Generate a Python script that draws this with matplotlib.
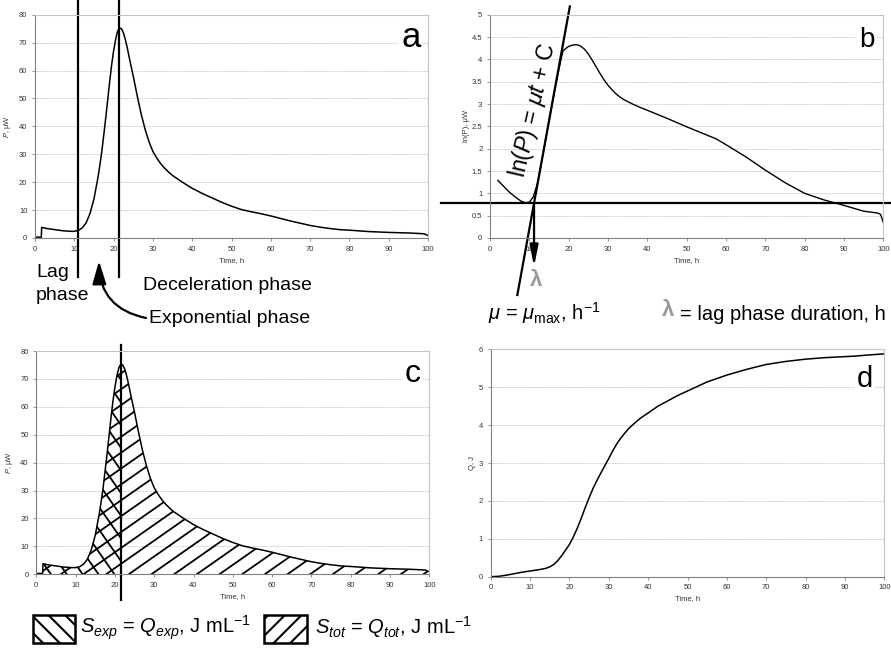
"""
Four-panel calorimetry figure: heat flow P(t), ln(P), hatched areas and cumulative heat Q(t)
"""

import numpy as np
import matplotlib
matplotlib.use("Agg")
import matplotlib.pyplot as plt
from matplotlib.patches import Rectangle, FancyArrowPatch
from matplotlib.ticker import MultipleLocator, FormatStrFormatter

plt.rcParams['font.family'] = ['Liberation Sans', 'DejaVu Sans']
plt.rcParams['mathtext.fontset'] = 'custom'
plt.rcParams['mathtext.rm'] = 'Liberation Sans'
plt.rcParams['mathtext.it'] = 'Liberation Sans:italic'
plt.rcParams['mathtext.bf'] = 'Liberation Sans:bold'
plt.rcParams['hatch.linewidth'] = 1.5
plt.rcParams['hatch.color'] = 'black'

# heat flow P, uW (panels a and c)
time_h = [0, 1.6, 1.7, 2, 3, 4, 5, 6, 7, 8, 9, 10, 11, 12, 13, 14, 15, 16, 16.5, 17, 17.5,
          18, 18.5, 19, 19.5, 20, 20.5, 21, 21.5, 22, 22.5, 23, 23.5, 24, 25, 26, 27, 28,
          29, 30, 31, 32, 33, 34, 35, 37.5, 40, 42.5, 45, 47.5, 50, 52.5, 55, 57.5, 60,
          62.5, 65, 67.5, 70, 72.5, 75, 77.5, 80, 85, 90, 95, 98, 99, 100]
power_uw = [0.3, 0.3, 3.8, 3.7, 3.4, 3.2, 3.0, 2.8, 2.6, 2.5, 2.4, 2.4, 2.7, 3.6, 5.4, 8.8,
            14, 21.5, 26, 31, 37, 43, 49.5, 56, 62, 67, 71, 74, 75.2, 75, 73.5, 71, 68,
            64.5, 58, 51, 44.5, 39, 34.5, 31, 28.6, 26.6, 25, 23.6, 22.4, 20, 17.8, 16,
            14.4, 12.8, 11.4, 10.2, 9.4, 8.7, 7.9, 7, 6.1, 5.3, 4.5, 3.9, 3.4, 3.0, 2.8,
            2.3, 2.0, 1.8, 1.6, 1.5, 0.9]

# ln(P) (panel b)
time_b = [2, 3, 4, 5, 6, 7, 8, 9, 10, 11, 12, 13, 14, 15, 16, 17, 18, 18.6, 19, 19.5, 20,
          21, 22, 23, 24, 25, 26, 27, 28, 29, 30, 31, 32, 33, 34, 36, 38, 40, 45, 50, 55,
          57.5, 60, 65, 70, 75, 80, 85, 90, 95, 98.5, 99.3, 100]
ln_power = [1.29, 1.2, 1.11, 1.02, 0.95, 0.88, 0.82, 0.79, 0.8, 0.92, 1.2, 1.65, 2.13,
            2.62, 3.1, 3.55, 3.98, 4.2, 4.22, 4.26, 4.29, 4.32, 4.33, 4.3, 4.23, 4.12,
            3.98, 3.83, 3.68, 3.54, 3.42, 3.32, 3.23, 3.16, 3.1, 3.01, 2.93, 2.86, 2.68,
            2.49, 2.31, 2.22, 2.09, 1.82, 1.52, 1.24, 1.0, 0.85, 0.73, 0.6, 0.56, 0.53,
            0.35]

# cumulative heat Q, J (panel d)
time_d = [0, 2, 4, 6, 8, 10, 12, 14, 15, 16, 17, 18, 19, 20, 21, 22, 23, 24, 25, 26, 27,
          28, 29, 30, 31, 32, 33, 34, 35, 36, 38, 40, 42.5, 45, 47.5, 50, 55, 60, 65, 70,
          75, 80, 85, 92.5, 96, 100]
heat_j = [0, 0.01, 0.04, 0.08, 0.12, 0.15, 0.18, 0.22, 0.26, 0.32, 0.42, 0.55, 0.7, 0.85,
          1.05, 1.28, 1.54, 1.82, 2.08, 2.33, 2.54, 2.74, 2.93, 3.12, 3.32, 3.5, 3.65,
          3.78, 3.9, 4.0, 4.18, 4.32, 4.5, 4.64, 4.78, 4.9, 5.14, 5.32, 5.47, 5.6, 5.68,
          5.74, 5.78, 5.82, 5.85, 5.88]

# phase boundaries and growth fit (panel b)
lag_end = 11.0
peak_time = 21.5
lag_level = 0.78
mu_max = 0.484
fit_c = -4.64
fit_range = [6.95, 20.3]

W, H = 891, 650
fig = plt.figure(figsize=(W / 100, H / 100), dpi=100)


def fx(px):
    return px / W


def fy(py):
    return 1 - py / H


def make_axes(left, top, right, bottom):
    return fig.add_axes([fx(left), fy(bottom), (right - left) / W, (bottom - top) / H])


def excel_style(ax, ymax, ystep, ylabel, ylabelpad):
    ax.set_xlim(0, 100)
    ax.set_ylim(0, ymax)
    ax.xaxis.set_major_locator(MultipleLocator(10))
    ax.yaxis.set_major_locator(MultipleLocator(ystep))
    ax.yaxis.set_major_formatter(FormatStrFormatter('%g'))
    for side in ['left', 'bottom']:
        ax.spines[side].set_color('#808080')
        ax.spines[side].set_linewidth(0.8)
    for side in ['top', 'right']:
        ax.spines[side].set_color('#c4c4c4')
        ax.spines[side].set_linewidth(0.8)
    ax.tick_params(direction='out', length=2.5, width=0.6, color='#808080',
                   labelsize=5.5, labelcolor='#333333', pad=3)
    ax.grid(axis='y', color='#b8b8b8', linestyle=(0, (1, 1)), linewidth=0.6)
    ax.set_axisbelow(True)
    ax.set_xlabel('Time, h', fontsize=5.5, color='#333333', labelpad=3)
    ax.set_ylabel(ylabel, fontsize=5.5, color='#333333', labelpad=ylabelpad)


def panel_letter(ax, letter, px, py, size):
    fig.text(fx(px), fy(py), letter, fontsize=size, ha='center', va='baseline',
             bbox=dict(boxstyle='square,pad=0.08', facecolor='white', edgecolor='none'))


def line_hatch(ax, t, p, angle, gap, lw=1.3):
    # hatch lines at a given angle (pixels), clipped to the area under the curve
    area = ax.fill_between(t, p, facecolor='none', edgecolor='none')
    clip = area.get_paths()[0]
    pos = ax.get_position()
    x0, x1 = ax.get_xlim()
    y0, y1 = ax.get_ylim()
    sx = pos.width * W / (x1 - x0)
    sy = pos.height * H / (y1 - y0)
    th = np.radians(angle)
    span = 2 * W
    s = np.array([-span, span])
    for c in np.arange(-span, span, gap):
        xs = -np.sin(th) * c + np.cos(th) * s
        ys = np.cos(th) * c + np.sin(th) * s
        ln, = ax.plot(xs / sx + x0, ys / sy + y0, color='black', lw=lw,
                      solid_capstyle='butt')
        ln.set_clip_path(clip, ax.transData)


t = np.array(time_h)
p = np.array(power_uw)

# ---- panel a ----
ax_a = make_axes(35, 14.7, 428, 238)
excel_style(ax_a, 80, 10, '$P$, μW', 4)
ax_a.plot(t, p, color='black', lw=1.1)
for xv in [lag_end, peak_time - 0.1]:
    ax_a.axvline(xv, ymin=-0.175, ymax=1.06, color='black', lw=1.6, clip_on=False)
panel_letter(ax_a, 'a', 410.7, 46.7, 25)

fig.text(fx(36), fy(277), 'Lag', fontsize=14, va='baseline')
fig.text(fx(36), fy(300), 'phase', fontsize=14, va='baseline')
fig.text(fx(143), fy(290), 'Deceleration phase', fontsize=14, va='baseline')
fig.text(fx(149), fy(322.7), 'Exponential phase', fontsize=14, va='baseline')
fig.add_artist(FancyArrowPatch((fx(146), fy(318)), (fx(99), fy(261)),
                               transform=fig.transFigure,
                               arrowstyle='-|>,head_length=1.0,head_width=0.3',
                               mutation_scale=14, lw=1.6, color='black',
                               connectionstyle='arc3,rad=-0.4', shrinkA=0, shrinkB=0))

# ---- panel b ----
ax_b = make_axes(490, 14.7, 883.3, 238)
excel_style(ax_b, 5, 0.5, 'ln(P), μW', 1)
ax_b.plot(time_b, ln_power, color='black', lw=1.0)
ax_b.axhline(lag_level, xmin=-0.125, xmax=1.02, color='black', lw=1.6, clip_on=False)
fit_t = np.array(fit_range)
ax_b.plot(fit_t, mu_max * fit_t + fit_c, color='black', lw=1.6, clip_on=False)
lag_b = (lag_level - fit_c) / mu_max
ax_b.annotate('', xy=(lag_b, -0.64), xytext=(lag_b, lag_level), annotation_clip=False,
              arrowprops=dict(arrowstyle='-|>,head_length=0.9,head_width=0.18',
                              mutation_scale=14, lw=1.6, color='black',
                              shrinkA=0, shrinkB=0))
panel_letter(ax_b, 'b', 866.7, 46.7, 20)
fig.text(fx(533), fy(110), r'ln($P$) = $\mu t$ + C', fontsize=16.5, rotation=77,
         rotation_mode='anchor', ha='center', va='center')
fig.text(fx(536), fy(280), 'λ', fontsize=16, color='#9a9a9a', fontweight='bold',
         ha='center', va='center')
fig.text(fx(488), fy(320), r'$\mu$ = $\mu_{\mathrm{max}}$, h$^{-1}$', fontsize=14.5,
         va='baseline')
fig.text(fx(668), fy(311), 'λ', fontsize=16, color='#9a9a9a', fontweight='bold',
         ha='center', va='center')
fig.text(fx(680), fy(320), '= lag phase duration, h', fontsize=14.5, va='baseline')

# ---- panel c ----
ax_c = make_axes(36.3, 351, 429.3, 574.3)
excel_style(ax_c, 80, 10, '$P$, μW', 4)
line_hatch(ax_c, t, p, 35, 13)
exp_mask = t <= peak_time
line_hatch(ax_c, t[exp_mask], p[exp_mask], -55, 13)
ax_c.plot(t, p, color='black', lw=1.1)
ax_c.axvline(peak_time, ymin=-0.115, ymax=1.027, color='black', lw=1.6, clip_on=False)
panel_letter(ax_c, 'c', 412.7, 381.7, 23)

for (left, right), hatch, label, tx in [
        ((33, 75), '\\\\', r'$S_{exp}$ = $Q_{exp}$, J mL$^{-1}$', 80),
        ((264, 306.7), '//', r'$S_{tot}$ = $Q_{tot}$, J mL$^{-1}$', 315)]:
    fig.add_artist(Rectangle((fx(left), fy(643)), (right - left) / W, 28 / H,
                             transform=fig.transFigure, facecolor='white',
                             edgecolor='black', lw=1.8, hatch=hatch))
    fig.text(fx(tx), fy(634), label, fontsize=14.5, va='baseline')

# ---- panel d ----
ax_d = make_axes(490.7, 349.3, 884.3, 576.7)
excel_style(ax_d, 6, 1, 'Q, J', 2)
ax_d.plot(time_d, heat_j, color='black', lw=1.1)
panel_letter(ax_d, 'd', 865, 386.7, 21)

fig.savefig('out.png', dpi=100)
